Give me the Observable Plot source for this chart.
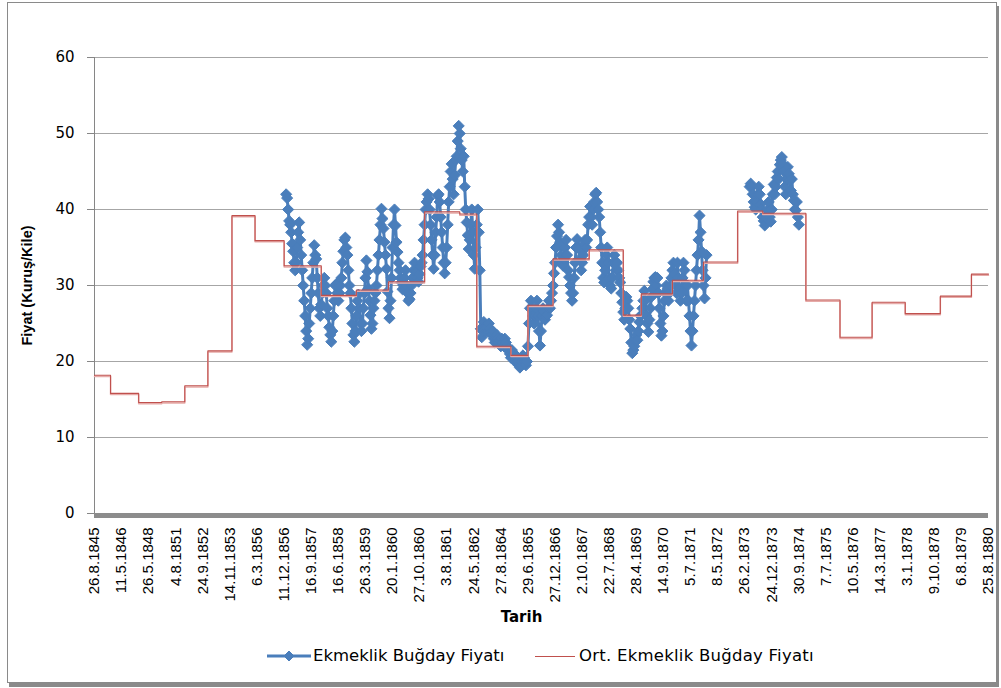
<!DOCTYPE html>
<html><head><meta charset="utf-8">
<script src="https://cdn.jsdelivr.net/npm/d3@7"></script>
<script src="https://cdn.jsdelivr.net/npm/@observablehq/plot@0.6"></script>
<style>
body{margin:0;background:#fff;width:1001px;height:688px;overflow:hidden;position:relative;}
#frame{position:absolute;left:7px;top:2px;width:988px;height:679px;border:1px solid #8a8a8a;box-shadow:2px 4px 0 #8a8a8a;background:#fff;}
#chart{position:absolute;left:0;top:0;}
.leg{position:absolute;top:644px;height:24px;line-height:24px;font-family:"DejaVu Sans";font-size:16.5px;color:#000;white-space:nowrap;}
.sw{position:absolute;top:644px;}
</style></head>
<body>
<div id="frame"></div>
<div id="chart"></div>
<svg class="sw" style="left:267px" width="44" height="24"><line x1="0" y1="12" x2="44" y2="12" stroke="#4a7ebb" stroke-width="3"/><path d="M22,7 L27,12 L22,17 L17,12 Z" fill="#4a7ebb" stroke="#4a7ebb"/></svg>
<div class="leg" id="l1" style="left:313px"></div>
<svg class="sw" style="left:535px" width="40" height="24"><line x1="0" y1="12.5" x2="40" y2="12.5" stroke="#c0504d" stroke-width="1.2"/></svg>
<div class="leg" id="l2" style="left:579px;letter-spacing:0.25px"></div>
<script>
// Category axis labels (every 27th category row is labelled)
const labels = ["26.8.1845","11.5.1846","26.5.1848","4.8.1851","24.9.1852","14.11.1853","6.3.1856","11.12.1856","16.9.1857","16.6.1858","26.3.1859","20.1.1860","27.10.1860","3.8.1861","24.5.1862","27.8.1864","29.6.1865","27.12.1866","2.10.1867","22.7.1868","28.4.1869","14.9.1870","5.7.1871","8.5.1872","26.2.1873","24.12.1873","30.9.1874","7.7.1875","10.5.1876","14.3.1877","3.1.1878","9.10.1878","6.8.1879","25.8.1880"];
const rowsPerLabel = 27;
const seriesNames = ["Ekmeklik Buğday Fiyatı", "Ort. Ekmeklik Buğday Fiyatı"];
const yTicks = [0,10,20,30,40,50,60];

// Ekmeklik Buğday Fiyatı (category rows 191..)
const blueAStart = 191;
const blueA = [
42,41.5,40,38.5,38,37,35.5,34.5,33,32,
33,35,37,38.3,36,34,32,30,28,26,
24,22.2,23,25,27,29,31,33,35.3,34,
33.5,31,29,27,26,27.5,29,30,31,30,
29,27,26,24.5,23.5,22.6,24,26,28,30,
30.2,29,28,29,30,31,33,34.5,36,36.3,
35,34,32,30,29,27,25,23.5,22.6,24,
26,28,28.8,27,25,24,25,27,29,31,
33.3,31.8,29.6,28,26.1,24.3,25,27,28,29,
30,32,34,36,38,40.1,38.8,37.5,35.7,34,
32.2,29.2,27,25.7,28,31,35,38,40,37.9,
35.7,34.4,33,32,31,30.4,29.5,30,31,32,
30,29,28,28.2,29,30,31,32,33,32,
31.8,31,30.5,31.5,32.5,33,34,36,38,40,
41,42,41.4,40,38,36,34,32.2,34,37,
39,41.8,42,41,39,37,35,33,31.6,33,
35,38,41,43,45,46,44,42,44.5,46.5,
47,49,51,50,48,46.5,45,47,43,40,
38.3,36.6,34.8,36,38,40,37,34,32.2,35,
38,40,37,32,24.3,23.2,24,25.2,24.5,24,
24.5,24,25,24.3,23.8,23.5,24,23,22.5,23,
23.5,23,22.5,22.8,22,23,22.5,22,23,22.5,
22,21.5,21.7,21,20.5,21.5,21,20.5,20,20.8,
20.5,20,19.5,19.2,19.5,20,20.8,20.5,20,19.5,
20,22,25,27,28,27,26,25,26,27,
28,26,24,22.1,24,26,27,26.5,25.5,26,
26.1,27,28,27,28,29,30,31.6,33,35,
36.5,38,37,35.7,34,33,32.6,33.5,35,36,
34,32,31.1,30,29,28,29,31,33,35,
36.1,35,34.8,33.5,32,33,34,35.5,36,35,
36,38,39,40.4,39,38,40,41,42,42.2,
41,40,39,37,35,33,31,30.4,32,34,
35,33,31,30,29.6,31,33,34,33,32,
33,32,31,30.4,29,27.8,26.5,25.5,27,28.5,
28,27,25.5,24.3,22.5,21.1,21.5,22,22.8,23.5,
22.8,24,25.2,26,26.1,27,28,29.3,28,26,
25,23.9,25.5,27,28.5,29.5,30.5,31,31.1,30,
31,29,27,25,23.4,24,26,28,29,30,
29.5,28,29,30,31,32,33,31.5,30,29,
33,31,29.6,28,29,31,33,32,30,28,
30,28,26,24,22.1,24,26,28,30,32,
34,36,39.2,37,34.5,32,30,28.3,31,34
];
const blueBStart = 653;
const blueB = [
43,43.4,43,42,41,40.3,40,41,42,43,
42,40.7,40,39,38.5,37.9,38.9,39.5,40,41,
39,38.4,40,42,43.3,42,43,44.2,45,44,
45.9,46.5,46.9,46,45,43,42,44,45.6,44.7,
43.8,42.5,44,42,41.2,40,39.9,41,39,38
];

// Ort. Ekmeklik Buğday Fiyatı: step start rows and values
const avgStart = [0,16,44,67,90,113,137,160,189,226,261,293,329,364,381,415,432,457,493,527,545,576,607,641,666,709,743,775,808,843,874];
const avgValue = [18.2,15.8,14.6,14.7,16.8,21.4,39.2,35.9,32.6,28.7,29.4,30.5,39.7,39.4,22.0,20.8,27.4,33.5,34.7,26.1,28.9,30.7,33.1,39.8,39.5,28.1,23.2,27.8,26.3,28.6,31.5];

const lastRow = (labels.length - 1) * rowsPerLabel;
const labelRows = labels.map((_, i) => i * rowsPerLabel);

const blue = [
  ...blueA.map((v, i) => ({row: blueAStart + i, value: v})),
  {row: blueAStart + blueA.length, value: null},
  ...blueB.map((v, i) => ({row: blueBStart + i, value: v}))
];
const avg = avgStart.map((r, i) => ({row: r, value: avgValue[i]}));
avg.push({row: lastRow, value: avgValue[avgValue.length - 1]});

document.getElementById("l1").textContent = seriesNames[0];
document.getElementById("l2").textContent = seriesNames[1];

const chart = Plot.plot({
  width: 1001, height: 640,
  marginLeft: 94, marginRight: 13, marginTop: 57, marginBottom: 127,
  x: {domain: [0, lastRow]},
  y: {domain: [0, 60]},
  style: {fontFamily: "Liberation Sans", fontSize: "15px", color: "#000", background: "transparent"},
  marks: [
    Plot.ruleY(yTicks.filter(d => d > 0), {y: d => d, stroke: "#a6a6a6", strokeWidth: 1}),
    Plot.ruleX([0], {stroke: "#868686"}),
    Plot.axisY({ticks: yTicks, tickSize: 7, tickPadding: 13, stroke: "#868686", fontFamily: "DejaVu Sans", fontSize: 15, label: null}),
    Plot.axisX({ticks: labelRows, tickFormat: d => labels[Math.round(d / rowsPerLabel)], tickRotate: -90, tickSize: 0, tickPadding: 14, label: null, fontSize: 15}),
    Plot.ruleY([0], {stroke: "#8c8c8c", strokeWidth: 5, dy: 2}),
    Plot.line(blue, {x: "row", y: "value", stroke: "#4a7ebb", strokeWidth: 3}),
    Plot.dot(blue, {x: "row", y: "value", symbol: "diamond2", r: 5, fill: "#4a7ebb", stroke: "#4a7ebb", strokeWidth: 1}),
    Plot.line(avg, {x: "row", y: "value", curve: "step-after", stroke: "#e6aaa8", strokeWidth: 1.5, dy: 1.2}),
    Plot.line(avg, {x: "row", y: "value", curve: "step-after", stroke: "#c0504d", strokeWidth: 1.1}),
    Plot.text(["Tarih"], {text: d => d, frameAnchor: "bottom", dx: -20, dy: 108, fontWeight: "bold", fontFamily: "DejaVu Sans", fontSize: 15}),
    Plot.text(["Fiyat (Kuruş/Kile)"], {text: d => d, frameAnchor: "left", textAnchor: "middle", dx: -67, rotate: -90, fontWeight: "bold", fontSize: 14.5})
  ]
});
document.getElementById("chart").appendChild(chart);
</script>
</body></html>
